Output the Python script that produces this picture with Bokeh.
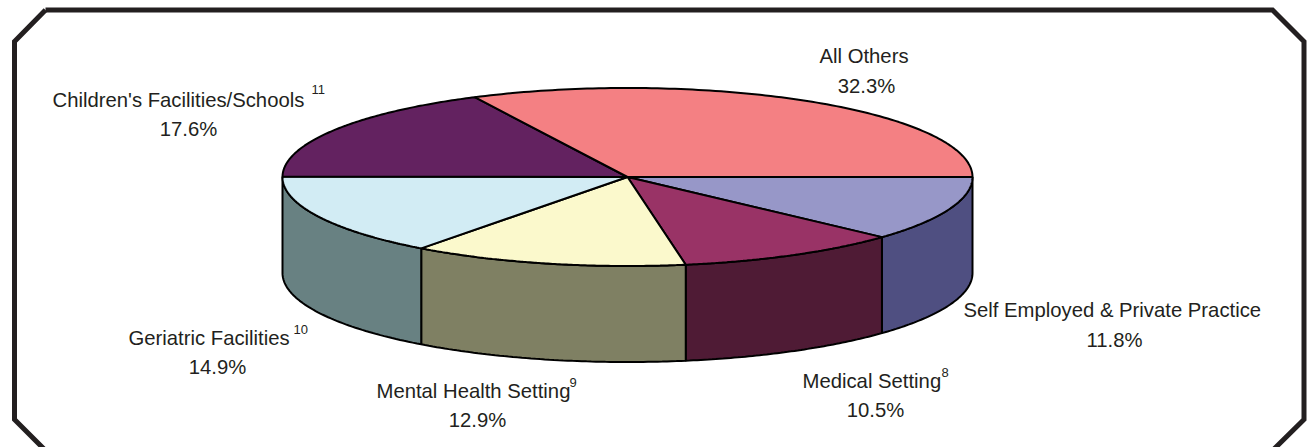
import numpy as np
from bokeh.plotting import figure
from bokeh.models import Range1d
from bokeh.core.properties import value
from bokeh.embed import file_html
from bokeh.resources import INLINE

categories = ["Self Employed & Private Practice", "Medical Setting", "Mental Health Setting",
              "Geriatric Facilities", "Children's Facilities/Schools", "All Others"]
shares = [11.8, 10.5, 12.9, 14.9, 17.6, 32.3]
share_labels = ["11.8%", "10.5%", "12.9%", "14.9%", "17.6%", "32.3%"]
footnotes = ["", "8", "9", "10", "11", ""]
top_colors = ["#9797C8", "#993366", "#FBF9CC", "#D2ECF4", "#632260", "#F48083"]
side_colors = ["#4F4F81", "#4F1B35", "#7F8063", "#688182", "#632260", "#F48083"]

CX, CY, RX, RY, DEPTH = 627, 176.5, 345, 89, 96
FONT = value("Liberation Sans")

p = figure(width=1308, height=447, output_backend="svg", toolbar_location=None,
           x_range=Range1d(0, 1308), y_range=Range1d(447, 0), min_border=0,
           outline_line_color=None, background_fill_color="white", border_fill_color="white")
p.axis.visible = False
p.grid.visible = False

# Octagonal frame
p.line([45, 1272, 1303.5, 1303.5, 1270], [9.5, 9.5, 41, 419, 452], line_color="#231F20", line_width=5, line_join="miter")
p.line([45, 14, 14, 47], [9.5, 41, 419, 452], line_color="#231F20", line_width=5, line_join="miter")

edges = np.cumsum([0] + shares) / sum(shares) * 2 * np.pi
ex = lambda t: CX + RX * np.cos(t)
ey = lambda t: CY + RY * np.sin(t)

# Side walls (front half only)
for i, c in enumerate(side_colors):
    a, b = edges[i], min(edges[i + 1], np.pi)
    if a >= np.pi:
        continue
    t = np.linspace(a, b, 60)
    xs = np.r_[ex(t), ex(t[::-1])]
    ys = np.r_[ey(t), ey(t[::-1]) + DEPTH]
    p.patch(xs, ys, fill_color=c, line_color="black", line_width=2)

# Top slices
for i, c in enumerate(top_colors):
    t = np.linspace(edges[i], edges[i + 1], 120)
    p.patch(np.r_[CX, ex(t)], np.r_[CY, ey(t)], fill_color=c, line_color="black", line_width=2)

# Labels: left of name, name baseline, superscript x and baseline, share centre, share baseline
label_pos = [(963, 309, None, None, 1114, 339),
             (802, 380, 941, 372, 875, 409),
             (376, 390, 569, 382, 477, 419),
             (128, 337, 293, 329, 217, 366),
             (52, 99, 311, 89, 188, 128),
             (819, 55, None, None, 866, 85)]
for name, share, note, (lx, ly, sx, sy, cx, cy) in zip(categories, share_labels, footnotes, label_pos):
    p.text([lx], [ly], text=[name], text_font=FONT, text_font_size="20.3px", text_color="#231F20",
           text_align="left", text_baseline="alphabetic")
    p.text([cx], [cy], text=[share], text_font=FONT, text_font_size="20.3px", text_color="#231F20",
           text_align="center", text_baseline="alphabetic")
    if note:
        p.text([sx], [sy], text=[note], text_font=FONT, text_font_size="13px", text_color="#231F20",
               text_align="left", text_baseline="alphabetic")

open("out.html", "w").write(file_html(p, INLINE))
